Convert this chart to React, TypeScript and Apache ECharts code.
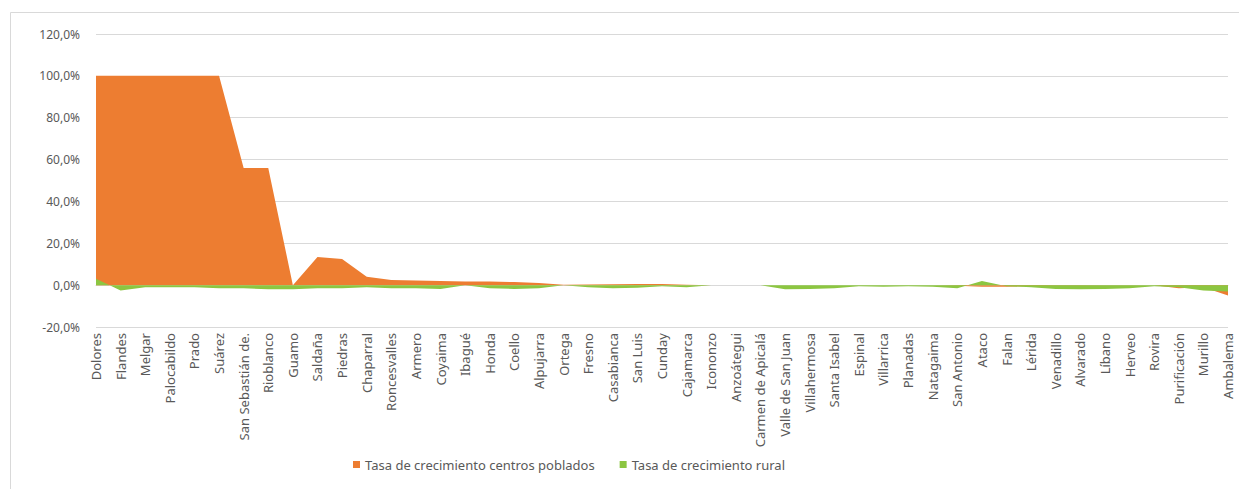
import React, { useEffect, useRef } from "react";
import * as echarts from "echarts";

const categories = [
  "Dolores", "Flandes", "Melgar", "Palocabildo", "Prado", "Suárez", "San Sebastián de.", "Rioblanco",
  "Guamo", "Saldaña", "Piedras", "Chaparral", "Roncesvalles", "Armero", "Coyaima", "Ibagué", "Honda",
  "Coello", "Alpujarra", "Ortega", "Fresno", "Casabianca", "San Luis", "Cunday", "Cajamarca", "Icononzo",
  "Anzoátegui", "Carmen de Apicalá", "Valle de San Juan", "Villahermosa", "Santa Isabel", "Espinal",
  "Villarrica", "Planadas", "Natagaima", "San Antonio", "Ataco", "Falan", "Lérida", "Venadillo",
  "Alvarado", "Líbano", "Herveo", "Rovira", "Purificación", "Murillo", "Ambalema",
];

const centrosPoblados = [
  100, 100, 100, 100, 100, 100, 56, 56,
  0, 13.5, 12.5, 4, 2.5, 2.2, 2.0, 1.8, 1.7,
  1.5, 1.0, 0.2, 0.3, 0.4, 0.5, 0.5, 0.2, 0,
  0, 0, 0, 0, 0, 0,
  0, 0, 0, -0.3, -0.8, -0.8, -0.5, -0.3,
  -0.3, -0.2, -0.2, 0, -1.5, -1, -5,
];

const rural = [
  3, -2.5, -1, -1, -1, -1.5, -1.5, -2,
  -2, -1.5, -1.5, -1, -1.5, -1.5, -1.8, 0, -1.5,
  -1.8, -1.5, 0, -1, -1.5, -1.2, -0.5, -1, 0,
  0, 0, -2, -1.8, -1.5, -0.5,
  -0.8, -0.5, -0.8, -1.5, 2, -0.5, -1, -1.8,
  -2, -1.8, -1.5, -0.5, -1, -2.5, -3,
];

const seriesNames = ["Tasa de crecimiento centros poblados", "Tasa de crecimiento rural"];

const FONT = "Noto Sans";

export default function App() {
  const ref = useRef<HTMLDivElement>(null);
  useEffect(() => {
    document.body.style.margin = "0";
    const chart = echarts.init(ref.current!, null, { renderer: "svg" });
    chart.setOption({
      animation: false,
      backgroundColor: "#ffffff",
      textStyle: { fontFamily: FONT },
      graphic: [
        {
          type: "rect",
          shape: { x: 10.5, y: 12.5, width: 1240, height: 490 },
          style: { fill: "none", stroke: "#d9d9d9", lineWidth: 1 },
          silent: true,
        },
      ],
      grid: { left: 96, right: 11, top: 34, bottom: 162, containLabel: false },
      legend: {
        top: 453,
        left: 348,
        itemWidth: 7,
        itemHeight: 7,
        itemGap: 25,
        icon: "rect",
        textStyle: { color: "#595959", fontSize: 13, fontFamily: FONT },
        data: seriesNames,
      },
      xAxis: {
        type: "category",
        data: categories,
        boundaryGap: false,
        axisLine: { onZero: true, lineStyle: { color: "#d9d9d9" } },
        axisTick: { show: false },
        axisLabel: {
          rotate: 90,
          interval: 0,
          margin: 6,
          color: "#595959",
          fontSize: 13,
          fontFamily: FONT,
        },
      },
      yAxis: {
        type: "value",
        min: -20,
        max: 120,
        interval: 20,
        axisLine: { show: false },
        axisTick: { show: false },
        splitLine: { lineStyle: { color: "#d9d9d9" } },
        axisLabel: {
          color: "#595959",
          fontSize: 12,
          margin: 16,
          fontFamily: FONT,
          formatter: (v: number) => v.toFixed(1).replace(".", ",") + "%",
        },
      },
      series: [
        {
          name: seriesNames[0],
          type: "line",
          data: centrosPoblados,
          symbol: "none",
          lineStyle: { width: 0 },
          itemStyle: { color: "#ED7D31" },
          areaStyle: { color: "#ED7D31", opacity: 1 },
        },
        {
          name: seriesNames[1],
          type: "line",
          data: rural,
          symbol: "none",
          lineStyle: { width: 0 },
          itemStyle: { color: "#8CC641" },
          areaStyle: { color: "#8CC641", opacity: 1 },
        },
      ],
    });
    return () => chart.dispose();
  }, []);
  return <div ref={ref} style={{ width: 1239, height: 489 }} />;
}
